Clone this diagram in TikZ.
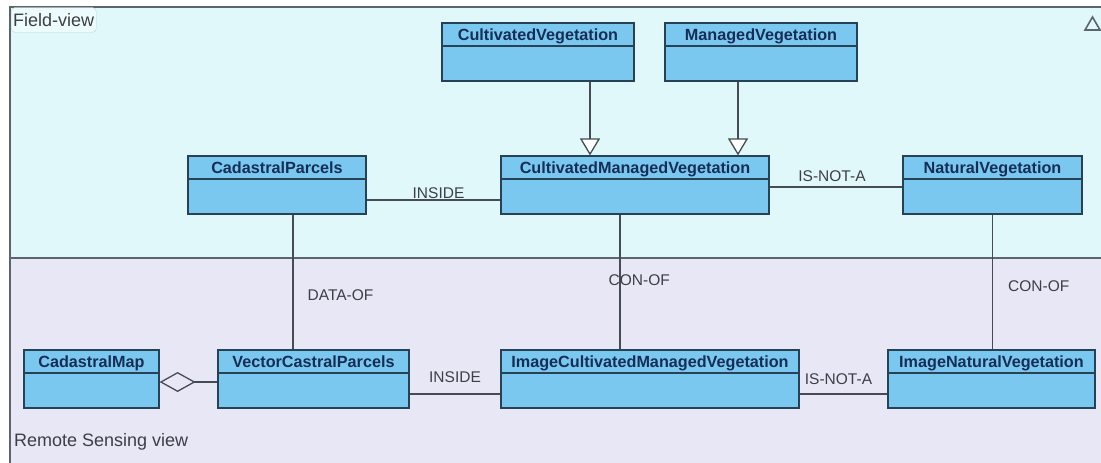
\documentclass[tikz,border=0pt]{standalone}
\usepackage{fontspec}
\setmainfont{Liberation Sans}
\usetikzlibrary{arrows.meta}
\definecolor{topbg}{RGB}{224,248,250}
\definecolor{botbg}{RGB}{231,231,245}
\definecolor{clsfill}{RGB}{122,200,240}
\definecolor{clsline}{RGB}{38,66,84}
\definecolor{clstext}{RGB}{22,46,86}
\definecolor{linegray}{RGB}{70,76,84}
\definecolor{lblgray}{RGB}{62,62,70}
\definecolor{framegray}{RGB}{92,100,108}
\begin{document}
\begin{tikzpicture}[x=1pt,y=-1pt,
  cls/.style={draw=clsline,line width=1.2pt,fill=clsfill,inner sep=0pt,text height=17pt,text depth=41pt,
    text=clstext,font=\fontsize{16.2}{17}\selectfont\bfseries,
    path picture={\draw[clsline,line width=1.2pt] ([yshift=-23pt]path picture bounding box.north west) -- ([yshift=-23pt]path picture bounding box.north east);}},
  assoc/.style={draw=linegray,line width=1.3pt},
  gen/.style={assoc,-{Triangle[fill=white,length=17pt,width=20pt]}},
  agg/.style={assoc,{Diamond[open,length=36pt,width=20pt]}-},
  lbl/.style={inner sep=0pt,text=lblgray,font=\fontsize{15.5}{16}\selectfont},
  viewlbl/.style={inner sep=2pt,text=lblgray,font=\fontsize{18}{19}\selectfont},
  frame/.style={draw=framegray,line width=1.3pt}]
\useasboundingbox (0,0) rectangle (1101,463);
\fill[topbg] (10,7) rectangle (1101,258);
\fill[botbg] (10,258) rectangle (1101,463);
\draw[frame] (1101,7) -- (10,7) -- (10,463);
\draw[frame] (10,258) -- (1101,258);
\draw[frame,line width=1.6pt] (1085,30) -- (1092.5,17) -- (1100,30) -- cycle;
\node[viewlbl,anchor=west,fill=topbg!60!white,draw=topbg!70!gray,rounded corners=4pt,minimum height=25pt] (fieldlbl) at (11,20) {Field-view};
\node[viewlbl,anchor=west] (rslbl) at (12,442) {Remote Sensing view};
\node[cls,minimum width=192pt] (cv) at (538,52) {CultivatedVegetation};
\node[cls,minimum width=192pt] (mv) at (761,52) {ManagedVegetation};
\node[cls,minimum width=178pt] (cp) at (277,185) {CadastralParcels};
\node[cls,minimum width=268pt] (cmv) at (635,185) {CultivatedManagedVegetation};
\node[cls,minimum width=179pt] (nv) at (992.5,185) {NaturalVegetation};
\node[cls,minimum width=135pt] (cm) at (91.5,379) {CadastralMap};
\node[cls,minimum width=191pt] (vcp) at (313.5,379) {VectorCastralParcels};
\node[cls,minimum width=298pt] (icmv) at (650,379) {ImageCultivatedManagedVegetation};
\node[cls,minimum width=207pt] (inv) at (991.5,379) {ImageNaturalVegetation};
\draw[gen] ([xshift=52pt]cv.south) -- ([xshift=52pt]cv.south |- cmv.north);
\draw[gen] ([xshift=-23pt]mv.south) -- ([xshift=-23pt]mv.south |- cmv.north);
\draw[assoc] ([yshift=-15pt]cp.east) -- ([yshift=-15pt]cp.east -| cmv.west) node[lbl,midway,above=1pt,xshift=5pt] {INSIDE};
\draw[assoc] ([yshift=-2pt]cmv.east) -- ([yshift=-2pt]cmv.east -| nv.west) node[lbl,midway,above=5pt,xshift=-4pt] {IS-NOT-A};
\draw[assoc] ([xshift=16pt]cp.south) -- ([xshift=16pt]cp.south |- vcp.north) node[lbl,pos=0.6,anchor=west,xshift=14pt] {DATA-OF};
\draw[assoc] ([xshift=-15pt]cmv.south) -- ([xshift=-15pt]cmv.south |- icmv.north) node[lbl,pos=0.49,anchor=west,xshift=-12pt] {CON-OF};
\draw[assoc] (nv.south) -- (nv.south |- inv.north) node[lbl,pos=0.53,anchor=west,xshift=15pt] {CON-OF};
\draw[agg] ([yshift=-3pt]cm.east) -- ([yshift=-3pt]cm.east -| vcp.west);
\draw[assoc] ([yshift=-15pt]vcp.east) -- ([yshift=-15pt]vcp.east -| icmv.west) node[lbl,midway,above=11pt] {INSIDE};
\draw[assoc] ([yshift=-15pt]icmv.east) -- ([yshift=-15pt]icmv.east -| inv.west) node[lbl,midway,above=9pt,xshift=-5pt] {IS-NOT-A};
\end{tikzpicture}
\end{document}
